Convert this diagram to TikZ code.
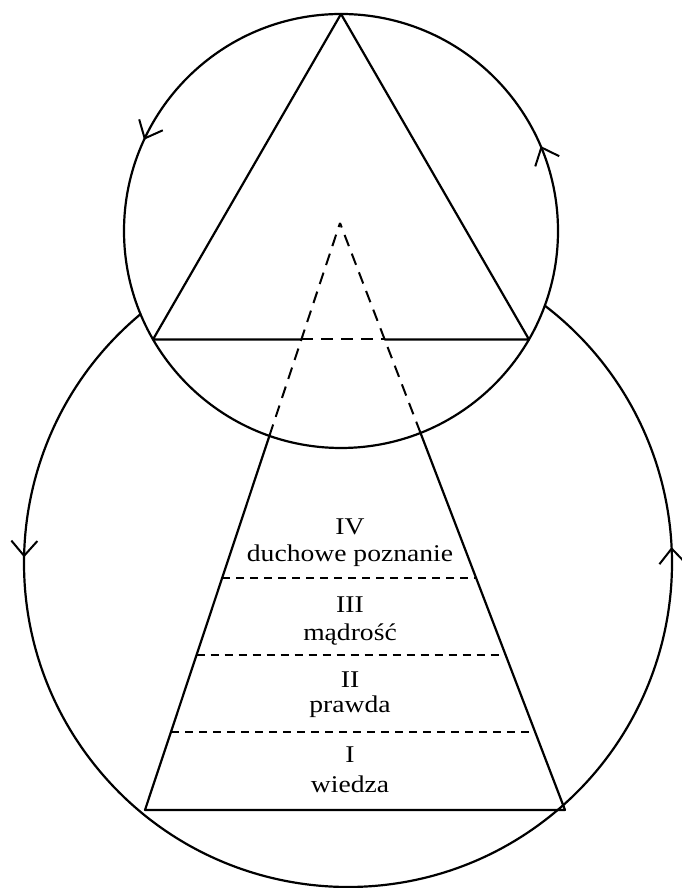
\documentclass[tikz,border=0pt]{standalone}
\usepackage{fontspec}
\setmainfont{Liberation Serif}[FakeStretch=1.15]
\usetikzlibrary{arrows.meta,decorations.markings}
\tikzset{
  solidline/.style={line width=2.2pt, line join=round, line cap=round},
  dashline/.style={line width=2pt, dash pattern=on 12pt off 8pt},
  levelline/.style={line width=1.1pt, dash pattern=on 8pt off 6pt},
  lbl/.style={font=\fontsize{24}{28}\selectfont, anchor=base, inner sep=0pt},
  barb/.tip={Straight Barb[length=15pt,width=26pt,line width=2pt]},
  smallflow/.style={postaction={decorate}, decoration={markings,
      mark=at position 0.181 with {\arrow{barb}},
      mark=at position 0.814 with {\arrow{barb}}}},
  bigflow/.style={postaction={decorate}, decoration={markings,
      mark=at position 0.174 with {\arrow{barb}},
      mark=at position 0.824 with {\arrow{barb}}}}
}
\begin{document}
\begin{tikzpicture}[x=1pt,y=1pt]
\useasboundingbox (0,0) rectangle (682,888);
\fill[white] (0,0) rectangle (682,888);
% centres
\coordinate (sc) at (341,657);
\coordinate (bc) at (348,325);
% small circle and big circle (outer part)
\draw[solidline, smallflow] (sc) ++(90:217) arc[start angle=90, end angle=450, radius=217];
\draw[solidline, bigflow] (bc) ++(129.8:324) arc[start angle=129.8, end angle=412.6, radius=324];
% inscribed triangle
\coordinate (ta) at (341,874);
\coordinate (tl) at (153,548.5);
\coordinate (tr) at (529,548.5);
\coordinate (dl) at (301.4,548.5);
\coordinate (dr) at (384.7,548.5);
\draw[solidline] (dl) -- (tl) -- (ta) -- (tr) -- (dr);
\draw[dashline] (dl) -- (dr);
% large triangle
\coordinate (apex) at (340,665);
\coordinate (bl) at (145,78);
\coordinate (br) at (565,78);
\coordinate (il) at (269.4,452.1);
\coordinate (ir) at (420.5,455.1);
\draw[solidline] (il) -- (bl) -- (br) -- (ir);
\draw[dashline] (il) -- (apex);
\draw[dashline] (ir) -- (apex);
% level lines
\coordinate (l3a) at (222.3,310); \coordinate (l3b) at (476.1,310);
\coordinate (l2a) at (196.7,233); \coordinate (l2b) at (505.6,233);
\coordinate (l1a) at (171.2,156); \coordinate (l1b) at (535.1,156);
\draw[levelline] (l3a) -- (l3b);
\draw[levelline] (l2a) -- (l2b);
\draw[levelline] (l1a) -- (l1b);
% labels
\node[lbl] (n4) at (350,353) {IV};
\node[lbl] (w4) at (350,326) {duchowe poznanie};
\node[lbl] (n3) at (350,275) {III};
\node[lbl] (w3) at (350,247) {mądrość};
\node[lbl] (n2) at (350,200) {II};
\node[lbl] (w2) at (350,175) {prawda};
\node[lbl] (n1) at (350,125) {I};
\node[lbl] (w1) at (350,95) {wiedza};
\end{tikzpicture}
\end{document}
